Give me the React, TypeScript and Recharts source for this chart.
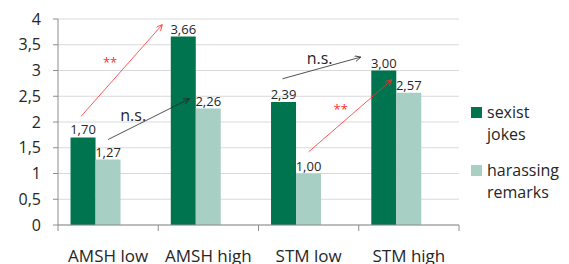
import { Bar, BarChart, CartesianGrid, LabelList, XAxis, YAxis } from "recharts";

const CATEGORIES = ["AMSH low", "AMSH high", "STM low", "STM high"];
const SEXIST_JOKES = [1.7, 3.66, 2.39, 3.0];
const HARASSING_REMARKS = [1.27, 2.26, 1.0, 2.57];
const Y_TICKS = [0, 0.5, 1, 1.5, 2, 2.5, 3, 3.5, 4];

// Significance arrows, in data space: x in category bands (0 = left edge), y in axis units.
const ARROWS = [
  { from: [0.23, 2.11], to: [1.04, 3.89], color: "red" },
  { from: [0.5, 1.66], to: [1.31, 2.45], color: "black" },
  { from: [2.24, 2.84], to: [3.02, 3.26], color: "black" },
  { from: [2.5, 1.42], to: [3.33, 2.82], color: "red" },
];
const NOTES = [
  { text: "**", at: [0.52, 3.17], color: "red" },
  { text: "n.s.", at: [0.75, 2.14], color: "black" },
  { text: "n.s.", at: [2.61, 3.25], color: "black" },
  { text: "**", at: [2.82, 2.26], color: "red" },
];

const COLORS = {
  jokes: "#00744f",
  remarks: "#a8cfc4",
  grid: "#d9d9d9",
  axis: "#8c8c8c",
  text: "#262626",
  red: "#ff3030",
  black: "#262626",
};

const FONT = "'Open Sans', sans-serif";
const W = 569;
const H = 264;
const MARGIN = { top: 19, right: 110, bottom: 9, left: 0 };
const Y_AXIS_W = 58;
const X_AXIS_H = 30;
const PLOT = {
  left: MARGIN.left + Y_AXIS_W,
  top: MARGIN.top,
  width: W - MARGIN.left - MARGIN.right - Y_AXIS_W,
  height: H - MARGIN.top - MARGIN.bottom - X_AXIS_H,
};
const Y_MAX = 4;

const data = CATEGORIES.map((category, i) => ({
  category,
  jokes: SEXIST_JOKES[i],
  remarks: HARASSING_REMARKS[i],
  blank: null,
}));

const comma = (v: number, d = 2) => Number(v).toFixed(d).replace(".", ",");
const yTick = (v: number) => (Number.isInteger(v) ? String(v) : comma(v, 1));

function CategoryTick(props: any) {
  const { x, y, payload, index } = props;
  const band = PLOT.width / CATEGORIES.length;
  const left = x - band / 2;
  const last = index === CATEGORIES.length - 1;
  return (
    <g>
      <line x1={left} x2={left} y1={y} y2={y + 6} stroke={COLORS.axis} />
      {last && <line x1={left + band} x2={left + band} y1={y} y2={y + 6} stroke={COLORS.axis} />}
      <text x={x} y={y + 37} textAnchor="middle" fill={COLORS.text} fontSize={17} fontFamily={FONT}>
        {payload.value}
      </text>
    </g>
  );
}

const px = (bx: number) => PLOT.left + (bx * PLOT.width) / CATEGORIES.length;
const py = (v: number) => PLOT.top + PLOT.height * (1 - v / Y_MAX);

function Annotations() {
  return (
    <svg width={W} height={H} style={{ position: "absolute", left: 0, top: 0, pointerEvents: "none" }}>
      <defs>
        {["red", "black"].map((c) => (
          <marker
            key={c}
            id={`arrow-${c}`}
            markerUnits="userSpaceOnUse"
            markerWidth={8}
            markerHeight={8}
            refX={6}
            refY={3}
            orient="auto"
          >
            <path d="M0,0 L6,3 L0,6" fill="none" stroke={c === "red" ? COLORS.red : COLORS.black} strokeWidth={0.8} />
          </marker>
        ))}
      </defs>
      {ARROWS.map((a, i) => (
        <line
          key={i}
          x1={px(a.from[0])}
          y1={py(a.from[1])}
          x2={px(a.to[0])}
          y2={py(a.to[1])}
          stroke={a.color === "red" ? COLORS.red : COLORS.black}
          strokeWidth={0.8}
          markerEnd={`url(#arrow-${a.color})`}
        />
      ))}
      {NOTES.map((n, i) => (
        <text
          key={i}
          x={px(n.at[0])}
          y={py(n.at[1])}
          textAnchor="middle"
          dominantBaseline="central"
          fill={n.color === "red" ? COLORS.red : COLORS.black}
          fontSize={n.text === "**" ? 13 : 16}
          fontFamily={FONT}
        >
          {n.text}
        </text>
      ))}
    </svg>
  );
}

function ChartLegend() {
  const items = [
    { lines: ["sexist", "jokes"], color: COLORS.jokes },
    { lines: ["harassing", "remarks"], color: COLORS.remarks },
  ];
  return (
    <div style={{ position: "absolute", left: 471, top: 101, fontFamily: FONT, fontSize: 16, color: COLORS.text }}>
      {items.map((it) => (
        <div key={it.lines[0]} style={{ display: "flex", alignItems: "flex-start", marginBottom: 14 }}>
          <div style={{ width: 11, height: 11, background: it.color, marginTop: 6, marginRight: 5 }} />
          <div style={{ lineHeight: "22px" }}>
            {it.lines.map((l) => (
              <div key={l}>{l}</div>
            ))}
          </div>
        </div>
      ))}
    </div>
  );
}

export default function App() {
  return (
    <div style={{ position: "absolute", left: 0, top: 0, width: W, height: H, background: "#fff" }}>
      <BarChart width={W} height={H} data={data} margin={MARGIN} barCategoryGap="12.5%" barGap={0}>
        <CartesianGrid vertical={false} stroke={COLORS.grid} />
        <XAxis
          dataKey="category"
          height={X_AXIS_H}
          axisLine={{ stroke: COLORS.axis }}
          tickLine={false}
          tickSize={0}
          tickMargin={0}
          interval={0}
          tick={<CategoryTick />}
        />
        <YAxis
          width={Y_AXIS_W}
          domain={[0, Y_MAX]}
          ticks={Y_TICKS}
          tickFormatter={yTick}
          axisLine={{ stroke: COLORS.axis }}
          tickLine={{ stroke: COLORS.axis }}
          tickSize={5}
          tickMargin={12}
          tick={{ fill: COLORS.text, fontSize: 16, fontFamily: FONT }}
        />
        <Bar dataKey="jokes" fill={COLORS.jokes} isAnimationActive={false}>
          <LabelList
            dataKey="jokes"
            position="top"
            offset={3}
            formatter={(v: any) => comma(v)}
            fill={COLORS.text}
            fontSize={13}
            fontFamily={FONT}
          />
        </Bar>
        <Bar dataKey="remarks" fill={COLORS.remarks} isAnimationActive={false}>
          <LabelList
            dataKey="remarks"
            position="top"
            offset={3}
            formatter={(v: any) => comma(v)}
            fill={COLORS.text}
            fontSize={13}
            fontFamily={FONT}
          />
        </Bar>
        <Bar dataKey="blank" fill="none" legendType="none" isAnimationActive={false} />
      </BarChart>
      <Annotations />
      <ChartLegend />
    </div>
  );
}
